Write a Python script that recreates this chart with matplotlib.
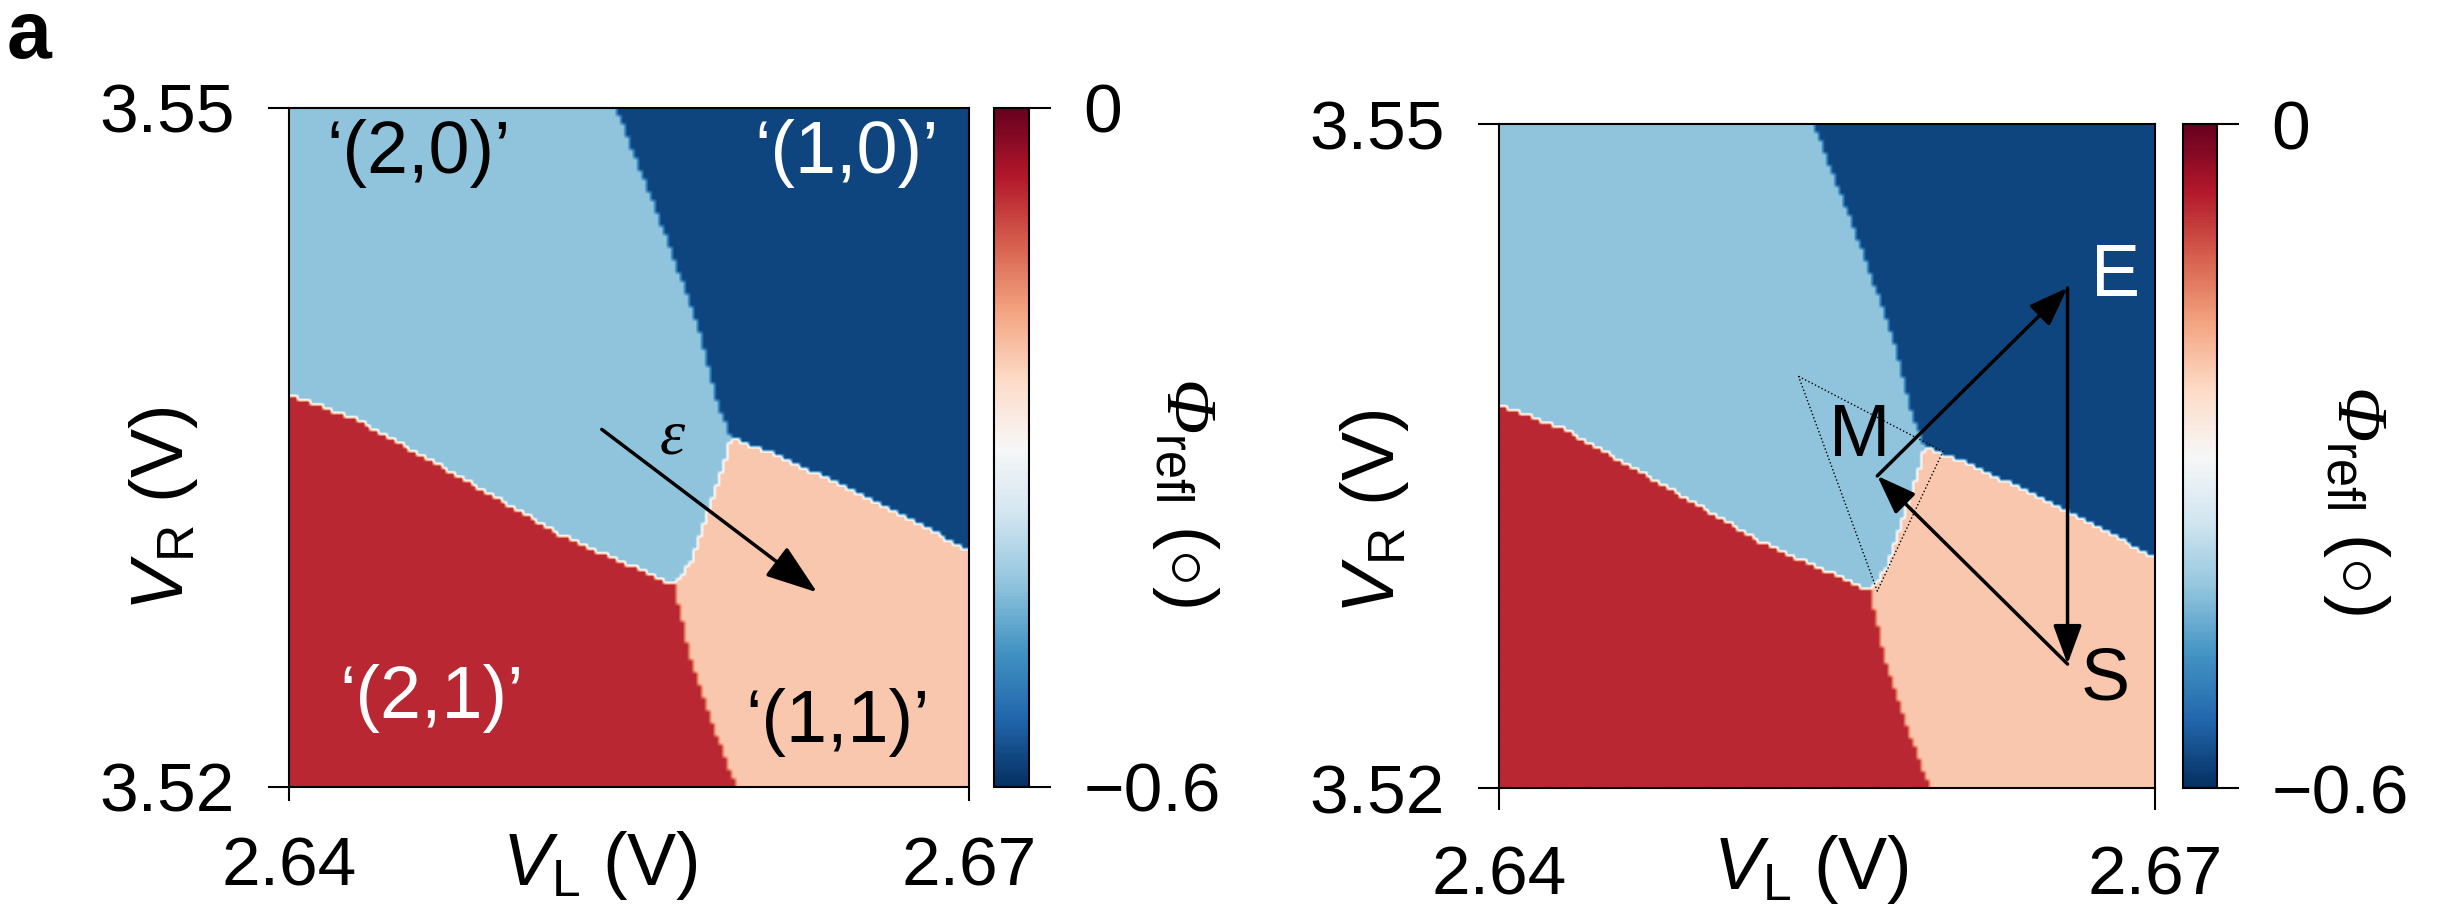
import numpy as np
import matplotlib.pyplot as plt
from matplotlib.path import Path

plt.rcParams["font.family"] = ["Liberation Sans", "DejaVu Sans"]
plt.rcParams["mathtext.fontset"] = "custom"
plt.rcParams["mathtext.rm"] = "Liberation Sans"
plt.rcParams["mathtext.it"] = "Liberation Sans:italic"
plt.rcParams["mathtext.bf"] = "Liberation Sans:bold"
# \mathsf is used for the slanted Greek symbols
plt.rcParams["mathtext.sf"] = "Liberation Serif:italic"

# gate ranges (V)
vl_range = [2.64, 2.67]
vr_range = [3.52, 3.55]

# reflected phase in each charge region (deg)
phase_10 = -0.575
phase_20 = -0.42
phase_21 = -0.075
phase_11 = -0.22

# charge transition lines, as (V_L, V_R) points
line_20_10 = [(2.6544, 3.5500), (2.6565, 3.5446), (2.6580, 3.5404),
              (2.6589, 3.5368), (2.6595, 3.5354)]
line_10_11 = [(2.6595, 3.5354), (2.6616, 3.5346), (2.6646, 3.5332),
              (2.6676, 3.5317), (2.6700, 3.5304)]
line_20_11 = [(2.6595, 3.5354), (2.6588, 3.5332), (2.6577, 3.5299),
              (2.6570, 3.5289)]
line_21_20 = [(2.6400, 3.5373), (2.6430, 3.5362), (2.6475, 3.5337),
              (2.6520, 3.5311), (2.6570, 3.5289)]
line_21_11 = [(2.6570, 3.5289), (2.6576, 3.5260), (2.6586, 3.5230),
              (2.6597, 3.5200)]

# pulse sequence points (right panel)
point_S = (2.6660, 3.5256)
point_M = (2.6573, 3.5341)
point_E = (2.6660, 3.5426)
pulse_window = [(2.6537, 3.5386), (2.6603, 3.5352), (2.6573, 3.5289)]

# detuning arrow (left panel)
eps_start = (2.6538, 3.5358)
eps_end = (2.6633, 3.5286)


def build_map(n=160):
    # sample at pixel centres so the frame edges fall inside the regions
    dx = (vl_range[1] - vl_range[0]) / n
    dy = (vr_range[1] - vr_range[0]) / n
    x = vl_range[0] + dx * (np.arange(n) + 0.5)
    y = vr_range[0] + dy * (np.arange(n) + 0.5)
    xx, yy = np.meshgrid(x, y)
    pts = np.column_stack([xx.ravel(), yy.ravel()])

    top_left = (vl_range[0], vr_range[1])
    top_right = (vl_range[1], vr_range[1])
    bot_left = (vl_range[0], vr_range[0])

    poly_10 = line_20_10 + line_10_11[1:] + [top_right]
    poly_20 = [top_left] + line_20_10 + line_20_11[1:] + line_21_20[::-1][1:]
    poly_21 = line_21_20 + line_21_11[1:] + [bot_left]

    z = np.full(len(pts), phase_11)
    z[Path(poly_10).contains_points(pts)] = phase_10
    z[Path(poly_20).contains_points(pts)] = phase_20
    z[Path(poly_21).contains_points(pts)] = phase_21
    return z.reshape(xx.shape)


def style_axes(ax, x_ticklen):
    ax.set_xlim(vl_range)
    ax.set_ylim(vr_range)
    ax.set_xticks(vl_range)
    ax.set_xticklabels(["2.64", "2.67"])
    ax.set_yticks(vr_range)
    ax.set_yticklabels(["3.52", "3.55"])
    ax.tick_params(axis="y", length=15, width=1.5, pad=24, labelsize=50)
    ax.tick_params(axis="x", length=x_ticklen, width=1.5, pad=25, labelsize=50)
    for s in ax.spines.values():
        s.set_linewidth(1.5)


def add_colorbar(fig, im, cax, label_x):
    cb = fig.colorbar(im, cax=cax, ticks=[-0.6, 0])
    cb.ax.set_yticklabels(["\u22120.6", "0"])
    cb.ax.tick_params(length=16, width=1.5, pad=23, labelsize=50)
    cb.outline.set_linewidth(1.5)
    cb.ax.text(label_x, 0.434, "$\\mathsf{\u03a6}_{\\mathrm{refl}}$ $(\\circ)$",
               transform=cb.ax.transAxes, rotation=-90, fontsize=52,
               ha="center", va="center")
    return cb


phase_map = build_map()

fig = plt.figure(figsize=(24.48, 9.23), dpi=100)

ax1 = fig.add_axes([0.11806, 0.14735, 0.27778, 0.73565])
cax1 = fig.add_axes([0.40605, 0.14735, 0.0143, 0.73565])
ax2 = fig.add_axes([0.61234, 0.14626, 0.26797, 0.71939])
cax2 = fig.add_axes([0.89175, 0.14626, 0.01389, 0.71939])

extent = [vl_range[0], vl_range[1], vr_range[0], vr_range[1]]
for ax in (ax1, ax2):
    im = ax.imshow(phase_map, origin="lower", extent=extent, aspect="auto",
                   cmap="RdBu_r", vmin=-0.6, vmax=0, interpolation="bilinear")

style_axes(ax1, 10)
style_axes(ax2, 16)
add_colorbar(fig, im, cax1, 5.46)
add_colorbar(fig, im, cax2, 5.09)

# axis labels sit level with the tick labels
ax1.text(0.457, -0.115, r"$V_{\mathrm{L}}$ (V)", transform=ax1.transAxes,
         fontsize=53, ha="center", va="center")
ax1.text(-0.184, 0.41, r"$V_{\mathrm{R}}$ (V)", transform=ax1.transAxes,
         fontsize=53, ha="center", va="center", rotation=90)
ax2.text(0.476, -0.123, r"$V_{\mathrm{L}}$ (V)", transform=ax2.transAxes,
         fontsize=53, ha="center", va="center")
ax2.text(-0.19, 0.416, r"$V_{\mathrm{R}}$ (V)", transform=ax2.transAxes,
         fontsize=53, ha="center", va="center", rotation=90)

# charge state labels
label_kw = dict(transform=ax1.transAxes, fontsize=53, ha="center", va="center")
ax1.text(0.19, 0.933, "\u2018(2,0)\u2019", color="black", **label_kw)
ax1.text(0.82, 0.933, "\u2018(1,0)\u2019", color="white", **label_kw)
ax1.text(0.209, 0.13, "\u2018(2,1)\u2019", color="white", **label_kw)
ax1.text(0.807, 0.095, "\u2018(1,1)\u2019", color="black", **label_kw)

# detuning axis
ax1.annotate("", xy=eps_end, xytext=eps_start,
             arrowprops=dict(arrowstyle="-|>,head_length=0.8,head_width=0.28",
                             lw=2.5, color="black", mutation_scale=40,
                             shrinkA=0, shrinkB=0))
ax1.text(2.6569, 3.5354, "\u03b5", fontsize=46, fontfamily="Liberation Serif",
         fontstyle="italic", ha="center", va="center")

# pulse cycle S -> M -> E -> S
arrow_kw = dict(arrowstyle="-|>,head_length=0.6,head_width=0.22", lw=2.5,
                color="black", mutation_scale=40, shrinkA=0, shrinkB=0)
ax2.annotate("", xy=point_M, xytext=point_S, arrowprops=arrow_kw)
ax2.annotate("", xy=point_E, xytext=point_M, arrowprops=arrow_kw)
ax2.annotate("", xy=point_S, xytext=point_E, arrowprops=arrow_kw)
tri = np.array(pulse_window + pulse_window[:1])
ax2.plot(tri[:, 0], tri[:, 1], linestyle=":", color="black", lw=1.0)
ax2.text(2.6682, 3.5431, "E", fontsize=53, ha="center", va="center", color="white")
ax2.text(2.6677, 3.5249, "S", fontsize=53, ha="center", va="center", color="black")
ax2.text(2.6565, 3.5359, "M", fontsize=53, ha="center", va="center", color="black")

fig.text(0.0118, 0.96, "a", fontsize=58, fontweight="bold", ha="center", va="center")

fig.savefig("out.png", dpi=100)
